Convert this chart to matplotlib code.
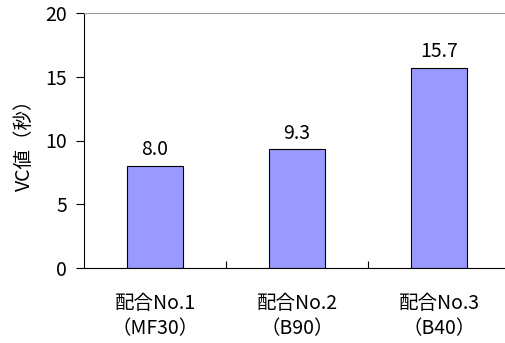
import numpy as np
import matplotlib.pyplot as plt

plt.rcParams['font.family'] = ['Noto Sans CJK JP', 'DejaVu Sans']

# 配合ごとのVC値
categorias = ['配合No.1\n（MF30）', '配合No.2\n（B90）', '配合No.3\n（B40）']
vc_valores = [8.0, 9.3, 15.7]

fig = plt.figure(figsize=(5.05, 3.43), dpi=100)
ax = fig.add_axes([84 / 505, 1 - 268 / 343, 1 - 84 / 505 + 0.01, (268 - 13) / 343])

x = np.arange(len(categorias))
ax.bar(x, vc_valores, width=0.4, color='#9999FF', edgecolor='black', linewidth=0.8, zorder=2)

for xi, v in zip(x, vc_valores):
    ax.annotate(f'{v:.1f}', (xi, v), xytext=(0, 4), textcoords='offset points',
                ha='center', va='bottom', fontsize=14)

ax.set_xlim(-0.5, 2.5)
ax.set_ylim(0, 20)
ax.set_yticks([0, 5, 10, 15, 20])
ax.tick_params(axis='y', direction='out', length=6, labelsize=14, width=0.8, pad=6)

# 目盛りは区切り位置に内向き、ラベルはカテゴリ中央
ax.set_xticks([0.5, 1.5])
ax.set_xticklabels([])
ax.tick_params(axis='x', which='major', direction='in', length=5, width=0.8)
ax.set_xticks(x, minor=True)
ax.set_xticklabels(categorias, minor=True, fontsize=14, linespacing=1.25)
ax.tick_params(axis='x', which='minor', length=0, pad=18)

ax.set_ylabel('VC値（秒）', fontsize=14, labelpad=8)

ax.spines['right'].set_visible(False)
ax.spines['top'].set_color('#999999')
ax.spines['left'].set_linewidth(0.8)
ax.spines['bottom'].set_linewidth(0.8)

fig.savefig('out.png', dpi=100)
